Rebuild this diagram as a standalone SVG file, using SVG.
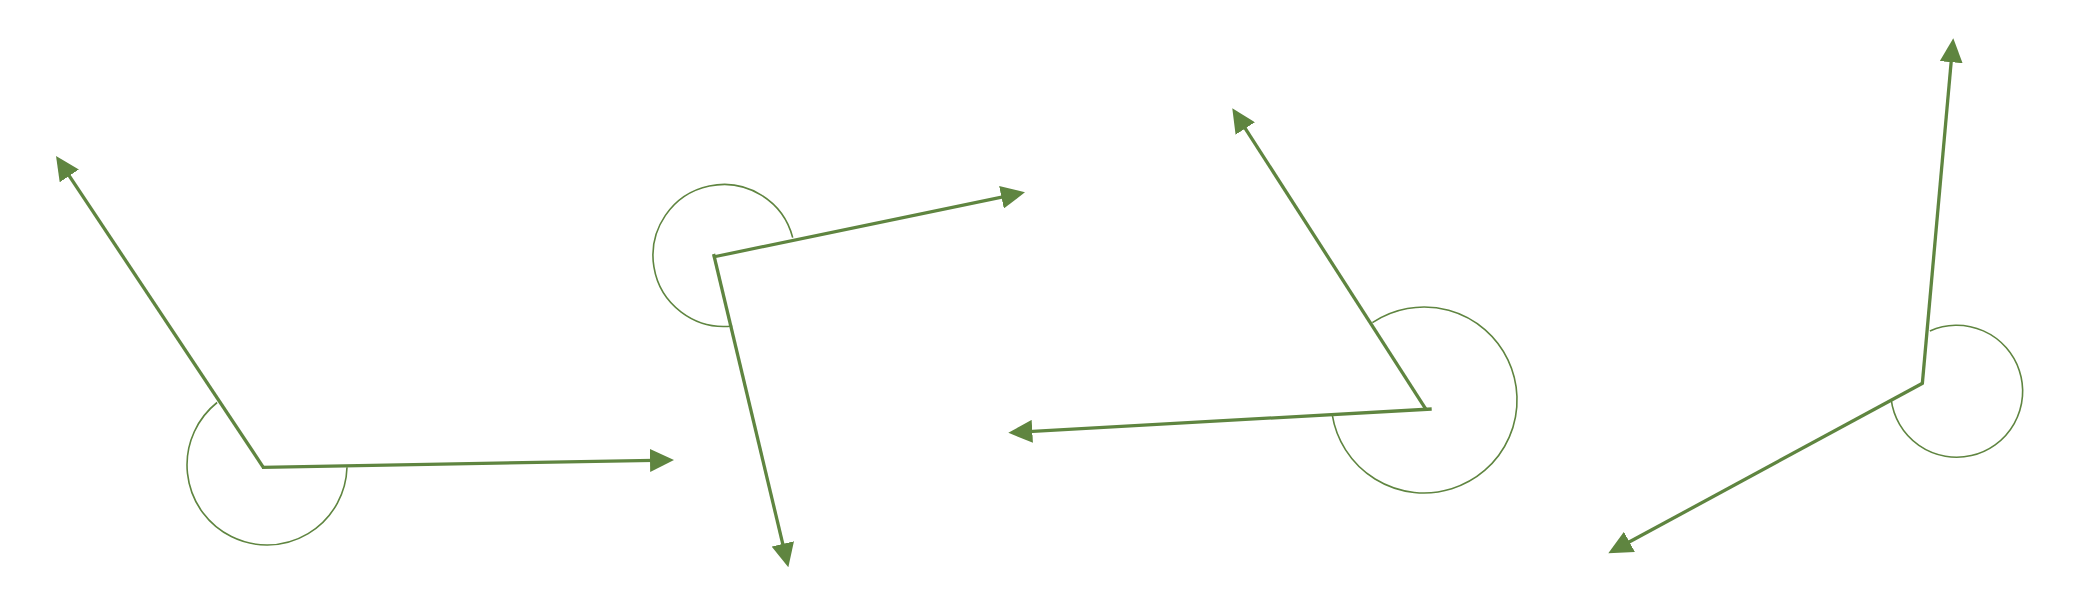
<svg xmlns="http://www.w3.org/2000/svg" width="2096" height="610" viewBox="0 0 2096 610">
<style>
.ray{stroke:#5f8540;stroke-width:3.3;fill:none;marker-end:url(#ah)}
.arc{stroke:#5f8540;stroke-width:1.6;fill:none}
</style>
<defs>
<marker id="ah" markerUnits="userSpaceOnUse" markerWidth="24" markerHeight="23" viewBox="0 0 24 23" refX="4" refY="11.5" orient="auto">
<path d="M0,0 L24,11.5 L0,23 z" fill="#5f8540"/>
</marker>
</defs>
<rect width="2096" height="610" fill="#ffffff"/>
<g id="angle1">
<path class="arc" d="M217.1,402.5 A80,80 0 1 0 347,467.3"/>
<line class="ray" x1="263.3" y1="467.3" x2="67.1" y2="172.6"/>
<line class="ray" x1="262" y1="467.3" x2="654" y2="460.4"/>
</g>
<g id="angle2">
<path class="arc" d="M792.7,237.6 A71,71 0 1 0 732.2,326"/>
<line class="ray" x1="713" y1="257" x2="1005.4" y2="196.4"/>
<line class="ray" x1="713.6" y1="254" x2="783.7" y2="547.8"/>
</g>
<g id="angle3">
<path class="arc" d="M1372.4,322.6 A93,93 0 1 1 1332.2,414.7"/>
<line class="ray" x1="1426" y1="409.3" x2="1243.1" y2="125.1"/>
<line class="ray" x1="1431.7" y1="409" x2="1028.3" y2="431.6"/>
</g>
<g id="angle4">
<path class="arc" d="M1929.9,330.9 A66,66 0 1 1 1891.2,399.7"/>
<line class="ray" x1="1922.3" y1="384" x2="1951.5" y2="58.2"/>
<line class="ray" x1="1923" y1="383" x2="1625.9" y2="543.8"/>
</g>
</svg>
